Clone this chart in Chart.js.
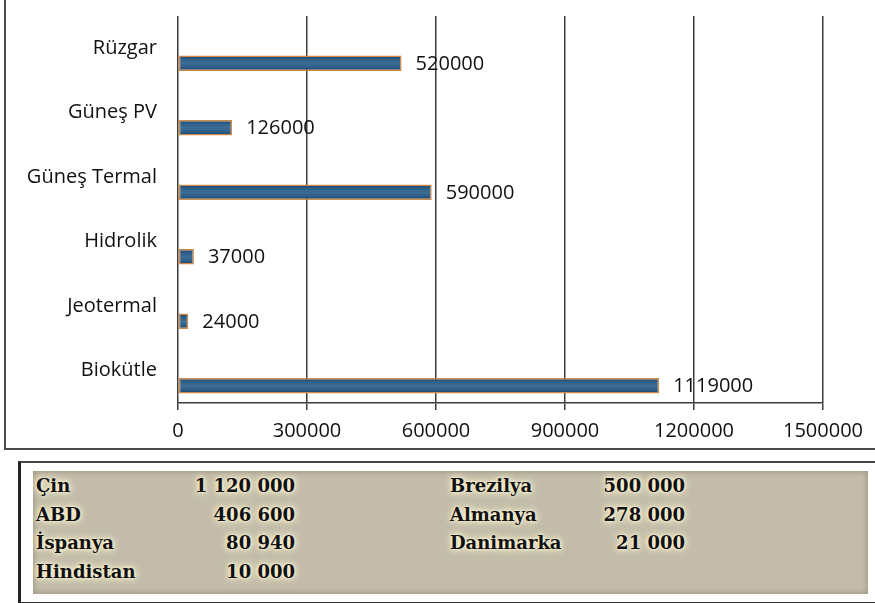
<!DOCTYPE html>
<html>
<head>
<meta charset="utf-8">
<script src="https://cdn.jsdelivr.net/npm/chart.js@4/dist/chart.umd.min.js"></script>
<style>
  html, body { margin:0; padding:0; background:#fff; width:875px; height:603px; overflow:hidden; }
  #frame { position:absolute; left:4px; top:-3px; width:880px; height:451px;
           border-left:2px solid #4a4a4a; border-bottom:2px solid #4a4a4a; }
  #wrap { position:absolute; left:0; top:0; width:875px; height:450px; }
  #box { position:absolute; left:18px; top:461px; width:870px; height:139px;
         border-left:3px solid #222; border-top:2px solid #444; border-bottom:2px solid #333; }
  #beige { position:absolute; left:33px; top:471px; width:835px; height:123px;
           background:#c3bcaa; box-shadow: inset 0 0 6px rgba(110,100,80,0.55); }
  .cell { position:absolute; font-family:"DejaVu Serif", serif; font-weight:bold; font-size:18px;
          color:#111; line-height:24px; white-space:nowrap;
          text-shadow: 0 0 3px #fffbe8, 0 0 6px #fff6cf, 0 0 9px #fff3c0; }
</style>
</head>
<body>
<div id="frame"></div>
<div id="wrap"><canvas id="c" width="875" height="450"></canvas></div>
<div id="box"></div>
<div id="beige"></div>
<script>
// ---- chart data ----
const categories = ['Rüzgar', 'Güneş PV', 'Güneş Termal', 'Hidrolik', 'Jeotermal', 'Biokütle'];
const values = [520000, 126000, 590000, 37000, 24000, 1119000];
const spacer = [null, null, null, null, null, null];
const xTicks = [0, 300000, 600000, 900000, 1200000, 1500000];

// ---- table data ----
const countriesLeft = ['Çin', 'ABD', 'İspanya', 'Hindistan'];
const capacityLeft = [1120000, 406600, 80940, 10000];
const countriesRight = ['Brezilya', 'Almanya', 'Danimarka'];
const capacityRight = [500000, 278000, 21000];

const CP = 0.93;
const BP = 0.52;
const FONT = '"Open Sans", "Noto Sans", sans-serif';

function barGradient(c) {
  const chart = c.chart;
  const y = chart.scales && chart.scales.y;
  if (!y || c.type !== 'data') return '#2f5f88';
  const p0 = y.getPixelForValue(0), p1 = y.getPixelForValue(1);
  const step = p1 - p0;
  const center = y.getPixelForValue(c.dataIndex) + step * CP / 4;
  const half = step * CP / 4 * BP;
  if (!isFinite(center) || !isFinite(step) || step === 0) return '#2f5f88';
  const g = chart.ctx.createLinearGradient(0, center - half, 0, center + half);
  g.addColorStop(0, '#163a5f');
  g.addColorStop(0.22, '#2d5d86');
  g.addColorStop(0.5, '#3d6d94');
  g.addColorStop(0.78, '#2d5d86');
  g.addColorStop(1, '#163a5f');
  return g;
}

const valueLabels = {
  id: 'valueLabels',
  afterDatasetsDraw(chart) {
    const ctx = chart.ctx;
    const meta = chart.getDatasetMeta(1);
    ctx.save();
    ctx.font = '20px ' + FONT;
    ctx.fillStyle = '#111';
    ctx.textBaseline = 'middle';
    ctx.textAlign = 'left';
    meta.data.forEach((bar, i) => {
      ctx.fillText(String(values[i]), bar.x + 14, bar.y + 1);
    });
    ctx.restore();
  }
};

const chart = new Chart(document.getElementById('c'), {
  type: 'bar',
  data: {
    labels: categories,
    datasets: [
      { data: spacer, backgroundColor: 'rgba(0,0,0,0)' },
      { data: values, backgroundColor: barGradient, borderColor: '#d08a48', borderWidth: 1.5,
        borderSkipped: false }
    ]
  },
  options: {
    indexAxis: 'y',
    responsive: false,
    animation: false,
    devicePixelRatio: 1,
    datasets: { bar: { categoryPercentage: CP, barPercentage: BP } },
    layout: { padding: { top: 16, right: 52, bottom: 0, left: 0 } },
    plugins: { legend: { display: false }, tooltip: { enabled: false } },
    scales: {
      x: {
        type: 'linear',
        min: 0, max: 1500000,
        afterBuildTicks(s) { s.ticks = xTicks.map(v => ({ value: v })); },
        afterFit(s) { s.height = 47; },
        grid: { color: '#3c3c3c', lineWidth: 1.5, drawTicks: true, tickLength: 7, tickColor: '#3c3c3c' },
        border: { display: true, color: '#3c3c3c', width: 1.5 },
        ticks: { font: { family: FONT, size: 20 }, color: '#111', padding: 9, maxRotation: 0,
                 callback: v => String(v) }
      },
      y: {
        afterFit(s) { s.width = 178; s.paddingTop = 0; s.paddingBottom = 0; },
        grid: { display: false },
        border: { display: false },
        ticks: { font: { family: FONT, size: 20 }, color: '#111', padding: 13 }
      }
    }
  },
  plugins: [valueLabels]
});
chart.update();

// ---- table ----
function fmt(n) { return String(n).replace(/\B(?=(\d{3})+(?!\d))/g, ' '); }
const beige = document.getElementById('beige');
const rowTop = 3, rowStep = 28.7;
function addCell(text, row, style) {
  const d = document.createElement('div');
  d.className = 'cell';
  d.textContent = text;
  d.style.top = (rowTop + row * rowStep) + 'px';
  Object.assign(d.style, style);
  beige.appendChild(d);
}
countriesLeft.forEach((n, i) => {
  addCell(n, i, { left: '3px' });
  addCell(fmt(capacityLeft[i]), i, { right: (835 - 262) + 'px' });
});
countriesRight.forEach((n, i) => {
  addCell(n, i, { left: '417px' });
  addCell(fmt(capacityRight[i]), i, { right: (835 - 652) + 'px' });
});
</script>
</body>
</html>
